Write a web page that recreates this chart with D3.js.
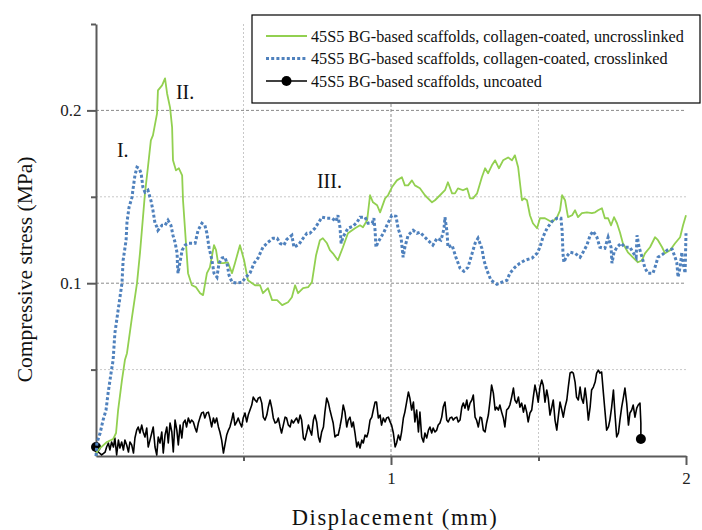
<!DOCTYPE html>
<html>
<head>
<meta charset="utf-8">
<script src="https://cdn.jsdelivr.net/npm/d3@7"></script>
<style>
  body { margin: 0; background: #fff; }
  svg text { font-family: "Palatino Linotype", "Book Antiqua", Palatino, "Liberation Serif", serif; }
</style>
</head>
<body>
<svg id="chart" width="702" height="530"></svg>
<script>
// series names (legend order)
const seriesNames = [
  "45S5 BG-based scaffolds, collagen-coated, uncrosslinked",
  "45S5 BG-based scaffolds, collagen-coated, crosslinked",
  "45S5 BG-based scaffolds, uncoated"
];

// displacement (mm), compressive stress (MPa)
const uncrosslinked = [
  [0,0],[0.003,0.0023],[0.014,0.0046],[0.037,0.0081],[0.058,0.0098],[0.068,0.0133],[0.075,0.0266],
  [0.088,0.0439],[0.098,0.0555],[0.105,0.0595],[0.122,0.0803],[0.139,0.1],[0.149,0.1173],[0.166,0.152],
  [0.176,0.1671],[0.186,0.1827],[0.193,0.1855],[0.207,0.1983],[0.21,0.2116],[0.224,0.2145],[0.234,0.2185],
  [0.241,0.2098],[0.251,0.2017],[0.258,0.1902],[0.261,0.1711],[0.271,0.1653],[0.281,0.1665],[0.292,0.1624],
  [0.295,0.148],[0.305,0.1231],[0.312,0.1058],[0.325,0.0988],[0.339,0.0977],[0.353,0.0942],[0.363,0.0931],
  [0.376,0.1058],[0.386,0.1092],[0.4,0.122],[0.407,0.1191],[0.414,0.1116],[0.431,0.1116],[0.447,0.1121],
  [0.461,0.1058],[0.471,0.1116],[0.488,0.122],[0.502,0.1133],[0.515,0.1017],[0.539,0.0988],[0.556,0.0988],
  [0.566,0.0942],[0.583,0.0971],[0.597,0.0902],[0.614,0.0902],[0.631,0.0873],[0.651,0.089],[0.664,0.0919],
  [0.675,0.0988],[0.685,0.0942],[0.702,0.0971],[0.719,0.0977],[0.732,0.1006],[0.746,0.1162],[0.759,0.1249],
  [0.769,0.126],[0.783,0.1231],[0.793,0.1191],[0.803,0.1173],[0.82,0.1133],[0.837,0.1208],[0.854,0.1289],
  [0.878,0.1318],[0.895,0.1335],[0.905,0.1324],[0.919,0.1364],[0.929,0.1509],[0.939,0.1468],[0.953,0.1451],
  [0.963,0.141],[0.98,0.1491],[0.99,0.1509],[1.003,0.1555],[1.02,0.1595],[1.037,0.1613],[1.047,0.1566],
  [1.058,0.1566],[1.071,0.1595],[1.081,0.1566],[1.098,0.1549],[1.115,0.1509],[1.139,0.1468],[1.149,0.148],
  [1.166,0.1509],[1.183,0.1538],[1.193,0.1584],[1.207,0.152],[1.217,0.152],[1.227,0.1549],[1.244,0.1538],
  [1.258,0.1549],[1.268,0.1491],[1.278,0.1491],[1.292,0.152],[1.308,0.1613],[1.319,0.1665],[1.329,0.1636],
  [1.342,0.1682],[1.353,0.1711],[1.366,0.1665],[1.38,0.1711],[1.397,0.1728],[1.41,0.1711],[1.42,0.174],
  [1.431,0.1671],[1.444,0.148],[1.451,0.1491],[1.461,0.148],[1.471,0.1393],[1.481,0.1347],[1.495,0.1318],
  [1.505,0.1376],[1.522,0.1376],[1.546,0.1353],[1.563,0.1382],[1.573,0.1422],[1.58,0.1509],[1.59,0.148],
  [1.6,0.1382],[1.614,0.1393],[1.624,0.1422],[1.634,0.1382],[1.647,0.1405],[1.664,0.141],[1.681,0.1405],
  [1.692,0.141],[1.702,0.1422],[1.715,0.1434],[1.725,0.1376],[1.736,0.1376],[1.746,0.1335],[1.756,0.1382],
  [1.766,0.1347],[1.776,0.1295],[1.786,0.1231],[1.803,0.1179],[1.82,0.115],[1.837,0.1121],[1.851,0.1133],
  [1.861,0.1173],[1.878,0.1208],[1.895,0.1266],[1.905,0.1249],[1.919,0.1208],[1.929,0.1173],[1.946,0.1191],
  [1.963,0.1231],[1.98,0.1266],[1.99,0.1335],[2.0,0.1393]
];

const crosslinked = [
  [0,0],[0.003,0.0075],[0.014,0.0133],[0.024,0.0208],[0.034,0.0266],[0.041,0.0364],[0.051,0.048],
  [0.058,0.0555],[0.064,0.0711],[0.075,0.0844],[0.088,0.1],[0.092,0.1133],[0.102,0.1249],[0.105,0.1353],
  [0.112,0.1439],[0.122,0.1497],[0.125,0.1538],[0.132,0.1624],[0.139,0.1671],[0.146,0.1665],[0.153,0.1636],
  [0.159,0.1555],[0.166,0.1526],[0.176,0.1538],[0.186,0.148],[0.193,0.1422],[0.2,0.1347],[0.207,0.1324],
  [0.21,0.1306],[0.224,0.1335],[0.234,0.1335],[0.244,0.1364],[0.254,0.1335],[0.261,0.1277],[0.268,0.1237],
  [0.275,0.1173],[0.276,0.1116],[0.278,0.1058],[0.292,0.1191],[0.302,0.122],[0.315,0.1231],[0.336,0.1231],
  [0.346,0.1306],[0.359,0.1347],[0.369,0.1335],[0.376,0.1289],[0.383,0.1208],[0.393,0.1133],[0.4,0.1058],
  [0.41,0.1035],[0.417,0.1116],[0.427,0.1145],[0.437,0.115],[0.444,0.1116],[0.451,0.1046],[0.461,0.1006],
  [0.478,0.1],[0.495,0.1006],[0.508,0.1035],[0.522,0.1058],[0.536,0.1116],[0.549,0.1145],[0.566,0.1208],
  [0.583,0.1237],[0.6,0.126],[0.614,0.126],[0.624,0.1231],[0.637,0.122],[0.647,0.1254],[0.664,0.1277],
  [0.671,0.1208],[0.688,0.1225],[0.702,0.126],[0.715,0.1289],[0.725,0.1289],[0.742,0.1318],[0.753,0.1347],
  [0.766,0.1382],[0.783,0.1376],[0.8,0.1376],[0.814,0.1358],[0.82,0.1393],[0.827,0.1324],[0.831,0.1231],
  [0.837,0.1266],[0.854,0.1318],[0.871,0.1329],[0.885,0.1353],[0.895,0.1382],[0.912,0.1382],[0.922,0.1347],
  [0.936,0.1347],[0.942,0.1376],[0.946,0.1306],[0.949,0.1208],[0.956,0.1237],[0.966,0.1266],[0.976,0.1295],
  [0.986,0.1335],[1.003,0.1393],[1.017,0.1387],[1.024,0.1318],[1.034,0.1266],[1.041,0.115],[1.047,0.1208],
  [1.058,0.1277],[1.075,0.1306],[1.088,0.1289],[1.098,0.1295],[1.115,0.1266],[1.132,0.1237],[1.142,0.122],
  [1.156,0.126],[1.169,0.1249],[1.176,0.1289],[1.18,0.1324],[1.183,0.1382],[1.19,0.1295],[1.193,0.1208],
  [1.207,0.122],[1.22,0.115],[1.234,0.1087],[1.247,0.1069],[1.261,0.1092],[1.275,0.1173],[1.285,0.1231],
  [1.295,0.126],[1.308,0.1202],[1.315,0.1133],[1.325,0.1075],[1.339,0.1017],[1.359,0.0994],[1.376,0.1006],
  [1.393,0.1017],[1.403,0.1058],[1.42,0.1092],[1.437,0.1116],[1.454,0.1133],[1.478,0.1145],[1.495,0.1173],
  [1.505,0.1208],[1.515,0.1266],[1.529,0.1318],[1.546,0.1358],[1.563,0.1376],[1.576,0.1376],[1.58,0.1306],
  [1.583,0.1173],[1.586,0.1121],[1.593,0.115],[1.607,0.1179],[1.624,0.1173],[1.641,0.115],[1.651,0.1179],
  [1.664,0.122],[1.675,0.1277],[1.685,0.1301],[1.698,0.1266],[1.708,0.1208],[1.725,0.1202],[1.736,0.1266],
  [1.746,0.1208],[1.749,0.1116],[1.756,0.1179],[1.766,0.1208],[1.78,0.1231],[1.793,0.1208],[1.81,0.1208],
  [1.82,0.1179],[1.831,0.115],[1.834,0.1277],[1.841,0.1208],[1.851,0.115],[1.861,0.1087],[1.871,0.1058],
  [1.888,0.1058],[1.895,0.1092],[1.905,0.115],[1.922,0.1168],[1.936,0.1191],[1.953,0.1197],[1.963,0.115],
  [1.969,0.1116],[1.973,0.1035],[1.98,0.1092],[1.986,0.1179],[1.99,0.1116],[1.997,0.1058],[2.0,0.1289]
];

const uncoated = [
  [0,0.0052],[0.008,0.0023],[0.019,0.0006],[0.031,0.0023],[0.036,0.0052],[0.042,0.0075],[0.047,0.0035],
  [0.053,0.0081],[0.059,0.0052],[0.064,0.0104],[0.07,0.0006],[0.076,0.0092],[0.081,0.0046],[0.087,0.0081],
  [0.093,0.0035],[0.098,0.0092],[0.104,0.0064],[0.11,0.0023],[0.115,0.0081],[0.121,0.0064],[0.127,0.0017],
  [0.132,0.0104],[0.138,0.015],[0.143,0.0168],[0.149,0.0133],[0.155,0.0179],[0.16,0.0139],[0.166,0.011],
  [0.172,0.0162],[0.177,0.0052],[0.183,0.0092],[0.189,0.0133],[0.194,0.0168],[0.2,0.0052],[0.206,0.0006],
  [0.211,0.011],[0.217,0.0075],[0.223,0.0139],[0.228,0.0017],[0.234,0.0121],[0.24,0.0168],[0.245,0.0075],
  [0.251,0.0191],[0.257,0.0139],[0.262,0.0023],[0.268,0.0208],[0.274,0.015],[0.279,0.0064],[0.285,0.0179],
  [0.291,0.0104],[0.296,0.0191],[0.302,0.0208],[0.307,0.0168],[0.313,0.022],[0.319,0.0191],[0.324,0.0208],
  [0.33,0.0197],[0.336,0.0162],[0.341,0.0139],[0.347,0.0191],[0.353,0.0225],[0.358,0.0249],[0.364,0.0254],
  [0.369,0.022],[0.375,0.0249],[0.381,0.0254],[0.386,0.022],[0.392,0.0168],[0.398,0.022],[0.403,0.0191],
  [0.409,0.022],[0.415,0.0168],[0.42,0.0139],[0.426,0.0092],[0.432,0.0017],[0.437,0.0064],[0.443,0.0121],
  [0.449,0.015],[0.454,0.0168],[0.46,0.0208],[0.465,0.0249],[0.471,0.0179],[0.477,0.0197],[0.482,0.022],
  [0.488,0.0191],[0.494,0.0168],[0.499,0.022],[0.505,0.0249],[0.511,0.0197],[0.516,0.0237],[0.522,0.0266],
  [0.528,0.0295],[0.533,0.0341],[0.539,0.0324],[0.545,0.0312],[0.55,0.0335],[0.556,0.0341],[0.562,0.0306],
  [0.567,0.0225],[0.573,0.0208],[0.579,0.0237],[0.584,0.0283],[0.59,0.0324],[0.596,0.0277],[0.601,0.022],
  [0.607,0.0191],[0.613,0.0197],[0.618,0.022],[0.624,0.0168],[0.629,0.0133],[0.635,0.0179],[0.641,0.0225],
  [0.646,0.022],[0.652,0.0179],[0.658,0.0168],[0.663,0.0208],[0.669,0.0191],[0.675,0.0208],[0.68,0.022],
  [0.686,0.0191],[0.692,0.0237],[0.697,0.0208],[0.703,0.0104],[0.708,0.0092],[0.714,0.0133],[0.72,0.0179],
  [0.725,0.015],[0.731,0.0121],[0.737,0.0208],[0.742,0.0237],[0.748,0.0197],[0.754,0.011],[0.759,0.0081],
  [0.765,0.0139],[0.771,0.0168],[0.776,0.0254],[0.782,0.0335],[0.788,0.0306],[0.793,0.0266],[0.799,0.0225],
  [0.804,0.0191],[0.81,0.011],[0.816,0.0121],[0.821,0.0121],[0.827,0.0168],[0.833,0.0225],[0.838,0.0295],
  [0.844,0.0254],[0.85,0.0168],[0.855,0.0208],[0.861,0.0225],[0.867,0.0168],[0.872,0.0197],[0.878,0.0133],
  [0.884,0.0052],[0.889,0.0081],[0.895,0.0046],[0.901,0.0092],[0.906,0.0075],[0.912,0.0121],[0.918,0.011],
  [0.923,0.0139],[0.929,0.0208],[0.935,0.0225],[0.94,0.0266],[0.946,0.0312],[0.951,0.0312],[0.957,0.022],
  [0.963,0.0237],[0.968,0.0179],[0.974,0.022],[0.98,0.0197],[0.985,0.022],[0.991,0.0225],[0.997,0.0197],
  [1.002,0.0179],[1.008,0.0133],[1.014,0.0052],[1.019,0.0075],[1.025,0.0121],[1.031,0.0092],[1.036,0.0139],
  [1.042,0.022],[1.047,0.0254],[1.053,0.0312],[1.059,0.037],[1.064,0.0335],[1.07,0.0266],[1.076,0.0312],
  [1.081,0.0197],[1.087,0.0266],[1.093,0.0139],[1.098,0.0254],[1.104,0.011],[1.11,0.0081],[1.115,0.0133],
  [1.121,0.0104],[1.127,0.015],[1.132,0.0168],[1.138,0.0133],[1.143,0.0162],[1.149,0.0139],[1.155,0.015],
  [1.16,0.0179],[1.166,0.0191],[1.172,0.0225],[1.177,0.0283],[1.183,0.0312],[1.189,0.0208],[1.194,0.0197],
  [1.2,0.022],[1.206,0.0225],[1.211,0.0208],[1.217,0.022],[1.223,0.0225],[1.228,0.0197],[1.234,0.0208],
  [1.24,0.0283],[1.245,0.0306],[1.251,0.0277],[1.257,0.0324],[1.262,0.0266],[1.268,0.0306],[1.274,0.0324],
  [1.279,0.0353],[1.285,0.0225],[1.29,0.0208],[1.296,0.0168],[1.302,0.0225],[1.307,0.022],[1.313,0.015],
  [1.319,0.0139],[1.324,0.0191],[1.33,0.0237],[1.336,0.0324],[1.341,0.041],[1.347,0.0364],[1.353,0.0266],
  [1.358,0.0283],[1.364,0.0266],[1.369,0.0295],[1.375,0.0254],[1.381,0.022],[1.386,0.0168],[1.392,0.0266],
  [1.398,0.0277],[1.403,0.0295],[1.409,0.0341],[1.415,0.0393],[1.42,0.0324],[1.426,0.0306],[1.432,0.0341],
  [1.437,0.0283],[1.443,0.0306],[1.449,0.0254],[1.454,0.0295],[1.46,0.0254],[1.465,0.0197],[1.471,0.0249],
  [1.477,0.0266],[1.482,0.0335],[1.488,0.041],[1.494,0.0364],[1.499,0.0312],[1.505,0.0399],[1.511,0.0439],
  [1.516,0.041],[1.522,0.0312],[1.528,0.0382],[1.533,0.0335],[1.539,0.0237],[1.545,0.0283],[1.55,0.0324],
  [1.556,0.0208],[1.562,0.015],[1.567,0.0225],[1.573,0.0312],[1.579,0.0266],[1.584,0.0225],[1.59,0.0283],
  [1.596,0.0324],[1.601,0.0399],[1.607,0.048],[1.613,0.0486],[1.618,0.048],[1.624,0.0428],[1.629,0.0341],
  [1.635,0.0324],[1.641,0.0399],[1.646,0.0335],[1.652,0.0306],[1.658,0.0393],[1.663,0.0324],[1.669,0.0208],
  [1.675,0.0283],[1.68,0.0382],[1.686,0.0399],[1.692,0.0428],[1.697,0.048],[1.703,0.0497],[1.708,0.048],
  [1.714,0.0486],[1.72,0.0364],[1.725,0.0266],[1.731,0.015],[1.737,0.0168],[1.742,0.0208],[1.748,0.0283],
  [1.754,0.0382],[1.759,0.0249],[1.765,0.011],[1.771,0.0133],[1.776,0.0208],[1.782,0.0283],[1.788,0.0341],
  [1.793,0.0393],[1.799,0.0306],[1.805,0.0179],[1.81,0.0249],[1.816,0.0266],[1.821,0.0295],[1.827,0.0225],
  [1.833,0.0277],[1.838,0.0295],[1.844,0.0306],[1.847,0.0191],[1.847,0.0098]
];

// axis ticks and labels
const xTicks = [0.5, 1, 1.5, 2];
const xLabels = [1, 2];
const yTicks = [0.05, 0.1, 0.15, 0.2, 0.25];
const yLabels = [0.1, 0.2];
const yGrid = [0.05, 0.1, 0.15, 0.2];
const xGrid = [0.5, 1, 1.5];

// phase annotations: [label, displacement, stress]
const phaseNotes = [["I.", 0.071, 0.1728], ["II.", 0.271, 0.2064], ["III.", 0.749, 0.155]];

function createChart() {
  const svg = d3.select("#chart");
  const margin = { top: 24, right: 16, bottom: 74, left: 96 };
  const width = +svg.attr("width") - margin.left - margin.right;
  const height = +svg.attr("height") - margin.top - margin.bottom;

  const x = d3.scaleLinear().domain([0, 2]).range([margin.left, margin.left + width]);
  const y = d3.scaleLinear().domain([0, 0.25]).range([margin.top + height, margin.top]);

  // gridlines
  svg.append("g")
    .selectAll("line")
    .data(yGrid)
    .enter()
    .append("line")
    .attr("x1", x(0)).attr("x2", x(2))
    .attr("y1", (d) => y(d)).attr("y2", (d) => y(d))
    .attr("stroke", (d) => yLabels.includes(d) ? "#8a8a8a" : "#c8c8c8")
    .attr("stroke-width", 1)
    .attr("stroke-dasharray", (d) => yLabels.includes(d) ? "3,2" : "2,2");

  svg.append("g")
    .selectAll("line")
    .data(xGrid)
    .enter()
    .append("line")
    .attr("x1", (d) => x(d)).attr("x2", (d) => x(d))
    .attr("y1", y(0.25)).attr("y2", y(0))
    .attr("stroke", (d) => xLabels.includes(d) ? "#8a8a8a" : "#c8c8c8")
    .attr("stroke-width", 1)
    .attr("stroke-dasharray", (d) => xLabels.includes(d) ? "3,2" : "2,2");

  // axes
  const xAxis = svg.append("g")
    .attr("transform", `translate(0, ${y(0)})`)
    .call(d3.axisBottom(x).tickValues(xTicks).tickSizeOuter(0).tickSizeInner(9)
      .tickFormat((d) => xLabels.includes(d) ? d : ""));
  xAxis.selectAll(".tick line").attr("y2", (d) => xLabels.includes(d) ? 9 : 5);

  const yAxis = svg.append("g")
    .attr("transform", `translate(${x(0)}, 0)`)
    .call(d3.axisLeft(y).tickValues(yTicks).tickSizeOuter(0).tickSizeInner(9)
      .tickFormat((d) => yLabels.includes(d) ? d : ""));
  yAxis.selectAll(".tick line").attr("x2", (d) => yLabels.includes(d) ? -9 : -5);

  svg.selectAll(".domain, .tick line").attr("stroke", "#5a5a5a").attr("stroke-width", 2);
  svg.selectAll(".tick text")
    .attr("font-family", "\"Liberation Serif\", serif")
    .attr("font-size", 17)
    .attr("fill", "#222");
  xAxis.selectAll(".tick text").attr("dy", "0.95em");
  yAxis.selectAll(".tick text").attr("dx", "-0.15em");

  // series
  const line = d3.line().x((d) => x(d[0])).y((d) => y(d[1]));

  svg.append("path")
    .datum(uncoated)
    .attr("fill", "none")
    .attr("stroke", "#000")
    .attr("stroke-width", 1.6)
    .attr("stroke-linejoin", "round")
    .attr("d", line);

  svg.selectAll(".end-dot")
    .data([uncoated[0], uncoated[uncoated.length - 1]])
    .enter()
    .append("circle")
    .attr("class", "end-dot")
    .attr("cx", (d) => x(d[0]))
    .attr("cy", (d) => y(d[1]))
    .attr("r", 5)
    .attr("fill", "#000");

  svg.append("path")
    .datum(uncrosslinked)
    .attr("fill", "none")
    .attr("stroke", "#92d050")
    .attr("stroke-width", 1.8)
    .attr("stroke-linejoin", "round")
    .attr("d", line);

  svg.append("path")
    .datum(crosslinked)
    .attr("fill", "none")
    .attr("stroke", "#4f81bd")
    .attr("stroke-width", 3)
    .attr("stroke-dasharray", "3,2.2")
    .attr("d", line);

  // phase labels
  svg.selectAll(".phase")
    .data(phaseNotes)
    .enter()
    .append("text")
    .attr("class", "phase")
    .attr("x", (d) => x(d[1]))
    .attr("y", (d) => y(d[2]))
    .attr("font-size", 20)
    .attr("fill", "#111")
    .text((d) => d[0]);

  // axis titles
  svg.append("text")
    .attr("transform", `translate(32, ${y(0.108)}) rotate(-90)`)
    .attr("text-anchor", "middle")
    .attr("font-size", 21.5)
    .attr("fill", "#111")
    .text("Compressive stress (MPa)");

  svg.append("text")
    .attr("x", 395)
    .attr("y", 525)
    .attr("text-anchor", "middle")
    .attr("font-size", 22.5)
    .attr("letter-spacing", 1.6)
    .attr("fill", "#111")
    .text("Displacement (mm)");

  // legend
  const legend = svg.append("g").attr("transform", "translate(252, 15)");
  legend.append("rect")
    .attr("width", 448).attr("height", 88)
    .attr("fill", "#fff").attr("stroke", "#000").attr("stroke-width", 1.2);

  const rows = legend.selectAll(".row")
    .data(seriesNames)
    .enter()
    .append("g")
    .attr("class", "row")
    .attr("transform", (d, i) => `translate(0, ${21 + i * 22.5})`);

  rows.append("line")
    .attr("x1", 14).attr("x2", 55)
    .attr("stroke", (d, i) => ["#92d050", "#4f81bd", "#000"][i])
    .attr("stroke-width", (d, i) => [1.8, 3, 1.6][i])
    .attr("stroke-dasharray", (d, i) => i === 1 ? "3,2.2" : null);

  rows.filter((d, i) => i === 2)
    .append("circle")
    .attr("cx", 34.5).attr("r", 5).attr("fill", "#000");

  rows.append("text")
    .attr("x", 59)
    .attr("dy", "0.35em")
    .attr("font-size", 16.2)
    .attr("fill", "#111")
    .text((d) => d);
}

createChart();
</script>
</body>
</html>
